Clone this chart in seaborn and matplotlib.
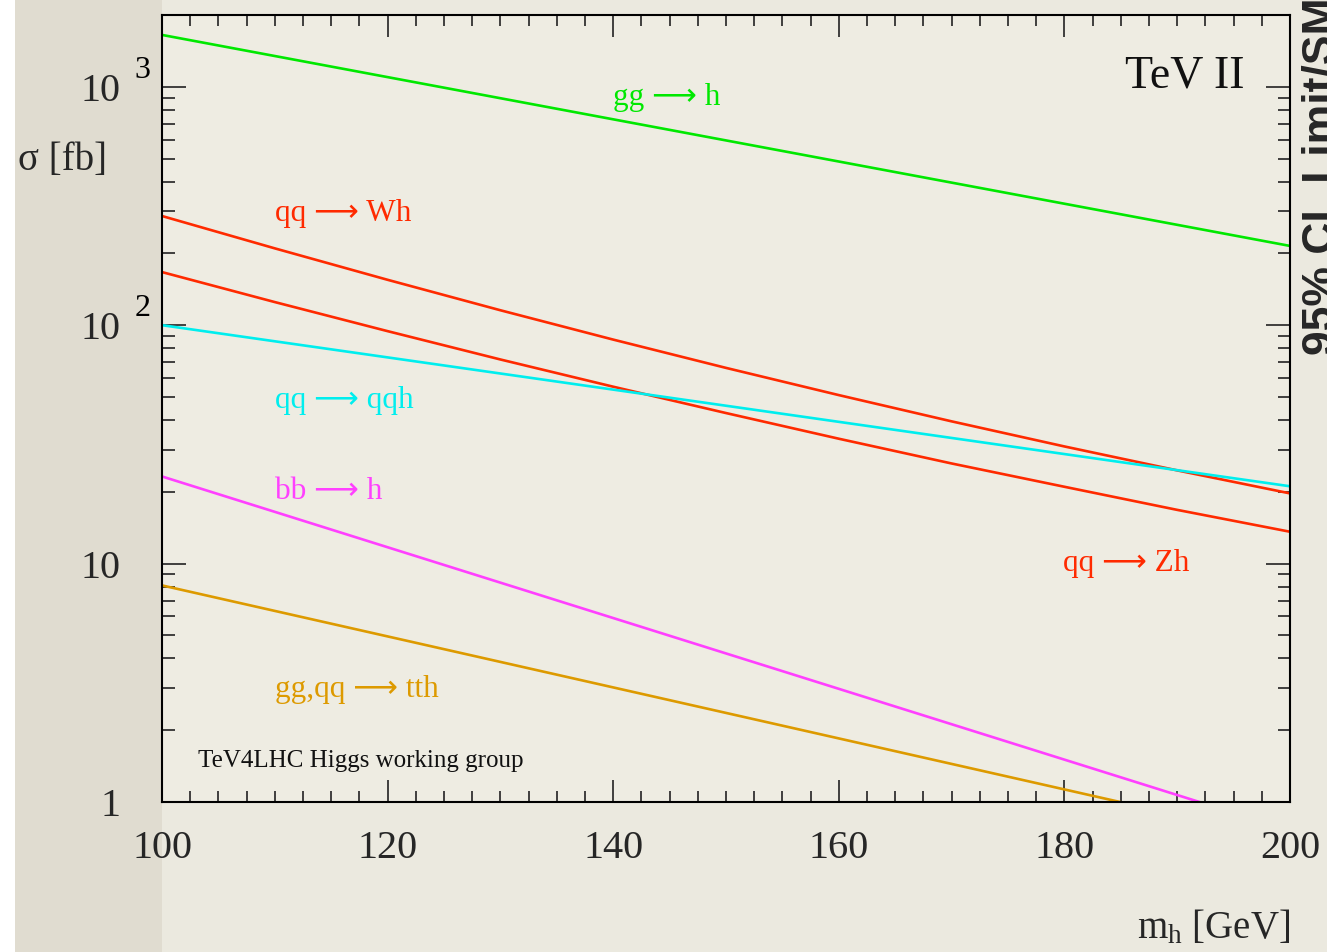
import numpy as np
import pandas as pd
import matplotlib
matplotlib.use("Agg")
import matplotlib.pyplot as plt
import matplotlib.transforms as mtransforms
from matplotlib.patches import Rectangle
from matplotlib.ticker import MultipleLocator, FixedLocator, LogLocator, NullFormatter, FixedFormatter
import seaborn as sns

# ---- data ----
mass_gg_h = [100, 200]
xsec_gg_h = [1650, 215]
mass_qq_Wh = [100, 110, 120, 130, 140, 150, 160, 170, 180, 190, 200]
xsec_qq_Wh = [287, 210, 155, 115.5, 87.0, 66.2, 50.9, 39.5, 31.0, 24.6, 19.7]
mass_qq_Zh = [100, 110, 120, 130, 140, 150, 160, 170, 180, 190, 200]
xsec_qq_Zh = [167, 125, 94.4, 71.8, 55.2, 42.8, 33.4, 26.3, 21.0, 16.8, 13.6]
mass_qq_qqh = [100, 200]
xsec_qq_qqh = [100, 21.1]
mass_bb_h = [100, 200]
xsec_bb_h = [23.2, 0.76]
mass_tth = [100, 200]
xsec_tth = [8.1, 0.69]

processes = ["gg_h", "qq_Wh", "qq_Zh", "qq_qqh", "bb_h", "tth"]
masses = [mass_gg_h, mass_qq_Wh, mass_qq_Zh, mass_qq_qqh, mass_bb_h, mass_tth]
series = [xsec_gg_h, xsec_qq_Wh, xsec_qq_Zh, xsec_qq_qqh, xsec_bb_h, xsec_tth]
colors = {"gg_h": "#00e800", "qq_Wh": "#ff2a00", "qq_Zh": "#ff2a00",
          "qq_qqh": "#00eeee", "bb_h": "#ff40ff", "tth": "#dd9a00"}

y_major = [1, 10, 100, 1000]
y_major_labels = ["1", "10", "10", "10"]
y_exponents = {100: "2", 1000: "3"}
x_ticks = [100, 120, 140, 160, 180, 200]

ARROW = "\u27f6"
labels = [
    (f"gg {ARROW} h", 140.0, 900, "gg_h"),
    (f"qq {ARROW} Wh", 110.0, 295, "qq_Wh"),
    (f"qq {ARROW} qqh", 110.0, 48.4, "qq_qqh"),
    (f"bb {ARROW} h", 110.0, 20.1, "bb_h"),
    (f"gg,qq {ARROW} tth", 110.0, 2.96, "tth"),
    (f"qq {ARROW} Zh", 179.9, 10.0, "qq_Zh"),
]

df = pd.DataFrame([
    {"mass": m, "xsec": v, "process": p}
    for p, ms, vals in zip(processes, masses, series) for m, v in zip(ms, vals)
])

sns.set_theme(style="ticks")
serif = ["Liberation Serif", "DejaVu Serif", "DejaVu Sans"]
plt.rcParams["font.family"] = serif
plt.rcParams["mathtext.fontset"] = "custom"
plt.rcParams["mathtext.rm"] = "Liberation Serif"
plt.rcParams["mathtext.it"] = "Liberation Serif:italic"

fig = plt.figure(figsize=(13.27, 9.52), dpi=100, facecolor="#ebe9df")
# darker paper on the left side and torn white strip at the left edge
fig.patches.append(Rectangle((0, 0), 162 / 1327, 1, transform=fig.transFigure,
                             facecolor="#e0dcd0", edgecolor="none", zorder=-10))
fig.patches.append(Rectangle((0, 0), 0.011, 1, transform=fig.transFigure,
                             facecolor="white", edgecolor="none", zorder=-9))
ax = fig.add_axes([162 / 1327, 1 - 802 / 952, (1290 - 162) / 1327, (802 - 15) / 952])
ax.set_facecolor("#eeece2")

sns.lineplot(data=df, x="mass", y="xsec", hue="process", units="process",
             estimator=None, palette=colors, legend=False, linewidth=1.9, ax=ax)

ax.set_yscale("log")
ax.set_xlim(100, 200)
ax.set_ylim(1, 2000)
ax.set_xlabel("")
ax.set_ylabel("")

ax.xaxis.set_major_locator(FixedLocator(x_ticks))
ax.xaxis.set_minor_locator(MultipleLocator(2.5))
ax.yaxis.set_major_locator(FixedLocator(y_major))
ax.yaxis.set_major_formatter(FixedFormatter(y_major_labels))
ax.yaxis.set_minor_locator(LogLocator(base=10, subs=np.arange(2, 10)))
ax.yaxis.set_minor_formatter(NullFormatter())

for s in ax.spines.values():
    s.set_visible(True)
    s.set_color("black")
    s.set_linewidth(1.5)

ax.tick_params(axis="both", which="both", direction="in", top=True, right=True,
               color="#222222", width=1.2)
ax.tick_params(axis="x", which="major", length=16, labelsize=29, pad=20)
ax.tick_params(axis="x", which="minor", length=8)
ax.tick_params(axis="y", which="major", length=17, labelsize=29, pad=30)
ax.tick_params(axis="y", which="minor", length=9)

# exponents of the y tick labels
trans = mtransforms.blended_transform_factory(ax.transAxes, ax.transData)
trans_up = mtransforms.offset_copy(trans, fig=fig, x=0, y=12, units="points")
for val, exp in y_exponents.items():
    ax.text(-0.024, val, exp, transform=trans_up, fontsize=23, ha="left",
            va="center", color="black", family=serif)

for txt, x, y, key in labels:
    ax.text(x, y, txt, color=colors[key], fontsize=22.5, ha="left", va="center",
            family=["Liberation Serif", "DejaVu Sans"])

ax.text(103.2, 1.49, "TeV4LHC Higgs working group", fontsize=18, ha="left",
        va="center", color="#111111", family=serif)
ax.text(196.0, 1110, "TeV II", fontsize=33, ha="right", va="center",
        color="#111111", family=serif)

fig.text(18 / 1327, 1 - 160 / 952, "\u03c3 [fb]", fontsize=28, ha="left",
         va="center", family=serif)
fig.text(1290 / 1327, 1 - 928 / 952, r"m$_{\rm h}$ [GeV]", fontsize=28,
         ha="right", va="center", family=serif)

fig.text(1302 / 1327, 1 - 355 / 952, "95% CL Limit/SM", fontsize=32,
         fontweight="bold", rotation=90, ha="left", va="bottom",
         family=["Liberation Sans", "DejaVu Sans"])

fig.savefig("out.png", dpi=100, facecolor=fig.get_facecolor())
